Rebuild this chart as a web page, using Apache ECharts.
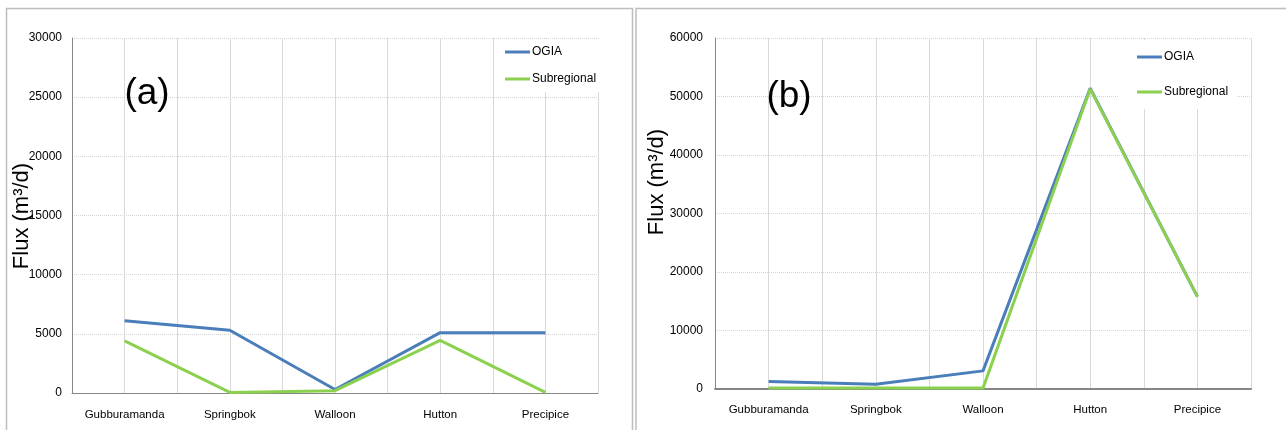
<!DOCTYPE html>
<html>
<head>
<meta charset="utf-8">
<script src="https://cdn.jsdelivr.net/npm/echarts@6/dist/echarts.min.js"></script>
<style>
html,body{margin:0;padding:0;background:#fff;}
#c{width:1286px;height:430px;}
</style>
</head>
<body>
<div id="c"></div>
<script>
const categories = ['Gubburamanda', 'Springbok', 'Walloon', 'Hutton', 'Precipice'];
const seriesNames = ['OGIA', 'Subregional'];
const ogiaA = [6100, 5300, 300, 5100, 5100];
const subA = [4400, 50, 200, 4450, 50];
const ogiaB = [1300, 800, 3100, 51400, 15800];
const subB = [150, 150, 150, 51300, 15800];
const yTicksA = { min: 0, max: 30000, interval: 5000 };
const yTicksB = { min: 0, max: 60000, interval: 10000 };
const yName = 'Flux (m³/d)';
const panelLabels = ['(a)', '(b)'];

const BLUE = '#4a7ebb';
const GREEN = '#8cd04f';
const SMALL = '"Liberation Sans Narrow", "Liberation Sans", Arial, sans-serif';
const ARIAL = '"Liberation Sans", Arial, sans-serif';

const chart = echarts.init(document.getElementById('c'), null, {renderer: 'canvas'});

function catAxis(gi, margin, axisW) {
  return {
    type: 'category', gridIndex: gi, data: categories, boundaryGap: true,
    axisLine: {show: true, lineStyle: {color: '#868686', width: axisW}},
    axisTick: {show: false},
    splitLine: {show: false},
    axisLabel: {color: '#000', fontFamily: SMALL, fontSize: 11.5, margin: margin, interval: 0}
  };
}
function gridX(gi) {
  return {
    type: 'value', gridIndex: gi, min: 0, max: 10, interval: 1, position: 'top',
    axisLine: {show: false}, axisTick: {show: false}, axisLabel: {show: false},
    splitLine: {show: true, lineStyle: {color: '#d9d9d9', width: 1}}
  };
}
function valAxis(gi, t, margin) {
  return {
    type: 'value', gridIndex: gi, min: t.min, max: t.max, interval: t.interval,
    axisLine: {show: true, lineStyle: {color: '#868686', width: 1}},
    axisTick: {show: false},
    axisLabel: {color: '#000', fontFamily: SMALL, fontSize: 12, margin: margin, formatter: v => String(v)},
    splitLine: {show: true, lineStyle: {color: '#d4d4d4', width: 1, type: [1, 1]}}
  };
}
function line(name, data, color, xi, yi) {
  return {
    name: name, type: 'line', data: data, xAxisIndex: xi, yAxisIndex: yi,
    showSymbol: false, symbol: 'none', lineStyle: {color: color, width: 3},
    itemStyle: {color: color}, animation: false, z: 3
  };
}

const option = {
  backgroundColor: '#fff',
  animation: false,
  grid: [
    {left: 72, top: 38, width: 526, height: 355, containLabel: false},
    {left: 715, top: 38, width: 536, height: 351, containLabel: false}
  ],
  xAxis: [catAxis(0, 16, 1), catAxis(1, 15, 2), gridX(0), gridX(1)],
  yAxis: [valAxis(0, yTicksA, 10), valAxis(1, yTicksB, 12)],
  legend: [
    {
      data: seriesNames.map(n => ({name: n})),
      orient: 'vertical', left: 500, top: 39,
      padding: [7, 8, 7, 5], itemGap: 15,
      backgroundColor: '#fff',
      icon: 'rect', itemWidth: 25, itemHeight: 3, itemStyle: {borderWidth: 0},
      textStyle: {color: '#000', fontFamily: SMALL, fontSize: 12, padding: [0, 0, 0, -3]}
    },
    {
      data: seriesNames.map(n => ({name: n})),
      orient: 'vertical', left: 1119, top: 40,
      padding: [11, 8, 11, 18], itemGap: 23,
      backgroundColor: '#fff',
      icon: 'rect', itemWidth: 25, itemHeight: 3, itemStyle: {borderWidth: 0},
      textStyle: {color: '#000', fontFamily: SMALL, fontSize: 12, padding: [0, 0, 0, -3]}
    }
  ],
  series: [
    line(seriesNames[0], ogiaA, BLUE, 0, 0),
    line(seriesNames[1], subA, GREEN, 0, 0),
    line(seriesNames[0], ogiaB, BLUE, 1, 1),
    line(seriesNames[1], subB, GREEN, 1, 1)
  ],
  graphic: [
    {type: 'rect', shape: {x: 6.5, y: 8.5, width: 626, height: 440}, style: {fill: 'none', stroke: '#bdbdbd', lineWidth: 1.5}, z: -1, silent: true},
    {type: 'rect', shape: {x: 636, y: 8.5, width: 680, height: 440}, style: {fill: 'none', stroke: '#bdbdbd', lineWidth: 1.5}, z: -1, silent: true},
    {type: 'text', x: 22, y: 216, rotation: Math.PI / 2, style: {text: yName, fill: '#000', font: '22px ' + ARIAL, textAlign: 'center', textVerticalAlign: 'middle'}, z: 10},
    {type: 'text', x: 657, y: 182, rotation: Math.PI / 2, style: {text: yName, fill: '#000', font: '22px ' + ARIAL, textAlign: 'center', textVerticalAlign: 'middle'}, z: 10},
    {type: 'text', x: 147, y: 94, style: {text: panelLabels[0], fill: '#000', font: '37px ' + ARIAL, textAlign: 'center', textVerticalAlign: 'middle'}, z: 10},
    {type: 'text', x: 789, y: 97, style: {text: panelLabels[1], fill: '#000', font: '37px ' + ARIAL, textAlign: 'center', textVerticalAlign: 'middle'}, z: 10}
  ]
};
chart.setOption(option);
</script>
</body>
</html>
